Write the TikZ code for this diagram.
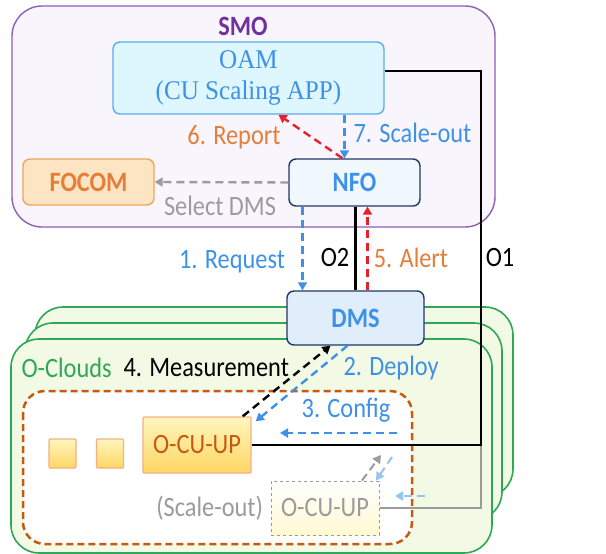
\documentclass[tikz,border=0pt]{standalone}
\usepackage{fontspec}
\setmainfont{Carlito}[FakeStretch=0.87]
\newfontfamily\oamfont{Liberation Serif}[FakeStretch=0.93]
\usetikzlibrary{arrows.meta, positioning}
\definecolor{smoline}{RGB}{140, 95, 185}
\definecolor{smofill}{RGB}{249, 245, 252}
\definecolor{smotext}{RGB}{112, 48, 160}
\definecolor{oamline}{RGB}{90, 172, 236}
\definecolor{oamfill}{RGB}{222, 246, 253}
\definecolor{focomline}{RGB}{240, 165, 90}
\definecolor{focomfill}{RGB}{253, 228, 194}
\definecolor{orangetext}{RGB}{228, 126, 56}
\definecolor{navy}{RGB}{32, 56, 100}
\definecolor{nfofill}{RGB}{240, 247, 253}
\definecolor{dmsfill}{RGB}{223, 238, 250}
\definecolor{bluetext}{RGB}{62, 145, 230}
\definecolor{cloudline}{RGB}{47, 168, 85}
\definecolor{cloudfill}{RGB}{242, 249, 228}
\definecolor{regionline}{RGB}{197, 90, 17}
\definecolor{cuhigh}{RGB}{255, 246, 190}
\definecolor{culow}{RGB}{255, 214, 100}
\definecolor{culine}{RGB}{244, 177, 131}
\definecolor{alert}{RGB}{232, 32, 42}
\definecolor{faint}{RGB}{155, 155, 155}
\definecolor{paleblue}{RGB}{150, 196, 240}

\begin{document}
\begin{tikzpicture}[x=1pt, y=-1pt,
  box/.style={draw, rounded corners=7pt, line width=1.4pt, align=center, inner sep=0pt},
  txt/.style={font=\fontsize{28}{30}\selectfont},
  bold/.style={font=\bfseries\fontsize{28}{30}\selectfont},
  flow/.style={line width=2.4pt, dash pattern=on 8pt off 5pt, -{Triangle[length=8pt,width=9pt]}},
  link/.style={line width=2.2pt},
  cloud/.style={draw=cloudline, fill=cloudfill, line width=1.6pt, rounded corners=28pt}]

  \useasboundingbox (0,0) rectangle (606,554);

  % SMO
  \node[box, draw=smoline, fill=smofill, rounded corners=30pt,
        minimum width=483pt, minimum height=221pt] (smo) at (253.5, 116.5) {};
  \node[bold, text=smotext] (smotitle) at (243, 26) {SMO};

  \node[box, draw=oamline, fill=oamfill, minimum width=271pt, minimum height=72pt,
        text=bluetext, font=\oamfont\fontsize{27}{31}\selectfont] (oam) at (248.5, 78)
        {OAM\\(CU Scaling APP)};
  \node[box, draw=focomline, fill=focomfill, minimum width=131pt, minimum height=46pt,
        text=orangetext, bold] (focom) at (88.5, 182) {FOCOM};
  \node[box, draw=navy, fill=nfofill, minimum width=131pt, minimum height=47pt,
        text=bluetext, bold] (nfo) at (354.5, 182.5) {NFO};

  % O-Clouds
  \foreach \xa/\ya/\xb/\yb in {35/307/513/497, 25/323/502/520, 11/339/492/553}
    \draw[cloud] (\xa, \ya) rectangle (\xb, \yb);
  \draw[regionline, fill=white, line width=2.5pt, dash pattern=on 7pt off 4pt,
        rounded corners=22pt] (23, 391) rectangle (412, 544);

  \node[box, draw=navy, fill=dmsfill, minimum width=137pt, minimum height=54pt,
        text=bluetext, bold] (dms) at (355.5, 318) {DMS};

  \node[box, draw=culine, rounded corners=1pt, top color=cuhigh, bottom color=culow,
        minimum width=108pt, minimum height=56pt, text=regionline, txt] (ocuup) at (197, 445) {O-CU-UP};
  \foreach \cx [count=\n] in {62.5, 110}
    \node[box, draw=culine, rounded corners=1pt, top color=cuhigh, bottom color=culow,
          minimum width=27pt, minimum height=29pt] (sq\n) at (\cx, 453.5) {};
  \node[box, draw=faint, dashed, line width=1pt, rounded corners=0pt, top color=white,
        bottom color=cuhigh!70, minimum width=108pt, minimum height=54pt, text=faint, txt]
        (ocunew) at (325, 508) {O-CU-UP};
  \node[txt, text=faint, left=4pt of ocunew] (scalenote) {(Scale-out)};

  % interfaces
  \coordinate (corner) at (481, 445);
  \draw[link, faint, line width=1.6pt] (ocunew.east) -| (corner);
  \draw[link] ([yshift=7pt]oam.east) -| (corner) -- (ocuup.east);
  \draw[link] (dms.north |- nfo.south) -- (dms.north);
  \node[txt] (o1) at (500, 258) {O1};
  \node[txt] (o2) at (335, 258) {O2};

  % flows
  \draw[flow, bluetext] ([xshift=-52pt]nfo.south) -- ([xshift=-52pt]nfo.south |- dms.north);
  \node[txt, text=bluetext] (req) at (232, 262) {1. Request};
  \draw[flow, alert] ([xshift=12pt]dms.north) -- ([xshift=12pt]dms.north |- nfo.south);
  \node[txt, text=orangetext] (alertlbl) at (411, 258) {5. Alert};
  \draw[flow, bluetext] ([xshift=-10pt]nfo.north |- oam.south) -- ([xshift=-10pt]nfo.north);
  \node[txt, text=bluetext, anchor=west] (scaleout) at (350, 133) {7. Scale-out};
  \draw[flow, alert] ([xshift=-12pt]nfo.north) -- ([xshift=30pt]oam.south);
  \node[txt, text=orangetext] (report) at (234, 137) {6. Report};
  \draw[flow, faint] (nfo.west) -- (focom.east);
  \node[txt, text=faint] (select) at (220, 206) {Select DMS};

  \draw[flow, black] ([xshift=-9pt]ocuup.north east) -- ([xshift=-25pt]dms.south);
  \draw[flow, bluetext] ([xshift=-8pt]dms.south) -- ([xshift=4pt, yshift=-5pt]ocuup.north east);
  \node[txt, text=cloudline, anchor=west] (oclouds) at (18, 368) {O-Clouds};
  \node[txt, anchor=west] (meas) at (120, 368) {4. Measurement};
  \node[txt, text=bluetext, anchor=west] (deploy) at (340, 368) {2. Deploy};

  \coordinate (cfgstart) at (397, 433);
  \coordinate (cfgend) at (280, 433);
  \draw[flow, bluetext] (cfgstart) -- (cfgend);
  \node[txt, text=bluetext] (config) at (346, 410) {3. Config};

  \coordinate (upend) at (381, 455);
  \coordinate (downstart) at (392, 457);
  \coordinate (sidestart) at (425, 496);
  \coordinate (sideend) at (395, 496);
  \draw[flow, faint, line width=2pt] ([xshift=37pt]ocunew.north) -- (upend);
  \draw[flow, paleblue, line width=2pt] (downstart) -- ([xshift=51pt]ocunew.north);
  \draw[flow, paleblue, line width=2pt] (sidestart) -- (sideend);

\end{tikzpicture}
\end{document}
